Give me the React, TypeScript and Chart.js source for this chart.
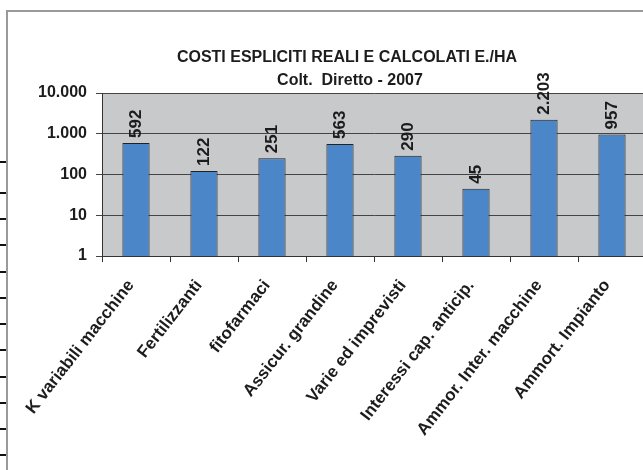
import React, { useEffect, useRef } from 'react';
import { Chart, registerables } from 'chart.js';

Chart.register(...registerables);

const TITLE_LINES = ['COSTI ESPLICITI REALI E CALCOLATI E./HA', 'Colt.  Diretto - 2007'];
const CATEGORIES = [
  'K variabili macchine',
  'Fertilizzanti',
  'fitofarmaci',
  'Assicur. grandine',
  'Varie ed imprevisti',
  'Interessi cap. anticip.',
  'Ammor. Inter. macchine',
  'Ammort. Impianto',
];
const VALUES = [592, 122, 251, 563, 290, 45, 2203, 957];
const Y_TICKS = [1, 10, 100, 1000, 10000];

const FONT_FAMILY = '"Liberation Sans", Arial, Helvetica, sans-serif';
const TEXT_COLOR = '#1c1c1c';
const BAR_COLOR = '#4a86c8';
const PLOT_BG = '#c8c9cb';
const ROW_MARKS = [162, 193, 219, 245, 272, 298, 324, 350, 377, 403, 429, 455];

const fmt = (n: number) => String(Math.round(n)).replace(/\B(?=(\d{3})+(?!\d))/g, '.');

const plotBg = {
  id: 'plotBg',
  beforeDraw(chart: any) {
    const { ctx, chartArea: a } = chart;
    ctx.save();
    ctx.fillStyle = PLOT_BG;
    ctx.fillRect(a.left, a.top, a.right - a.left, a.bottom - a.top);
    ctx.restore();
  },
};

const titlePlugin = {
  id: 'twoLineTitle',
  afterDraw(chart: any) {
    const { ctx } = chart;
    ctx.save();
    ctx.fillStyle = TEXT_COLOR;
    ctx.font = `bold 16px ${FONT_FAMILY}`;
    ctx.textAlign = 'center';
    ctx.textBaseline = 'alphabetic';
    ctx.fillText(TITLE_LINES[0], 347, 62);
    ctx.fillText(TITLE_LINES[1], 350, 85);
    ctx.restore();
  },
};

const valueLabels = {
  id: 'valueLabels',
  afterDatasetsDraw(chart: any) {
    const { ctx } = chart;
    const meta = chart.getDatasetMeta(0);
    ctx.save();
    ctx.fillStyle = TEXT_COLOR;
    ctx.font = `bold 17px ${FONT_FAMILY}`;
    ctx.textAlign = 'left';
    ctx.textBaseline = 'middle';
    meta.data.forEach((bar: any, i: number) => {
      ctx.save();
      ctx.translate(bar.x, bar.y - 5);
      ctx.rotate(-Math.PI / 2);
      ctx.fillText(fmt(VALUES[i]), 0, 0);
      ctx.restore();
    });
    ctx.restore();
  },
};

export default function App() {
  const ref = useRef<HTMLCanvasElement | null>(null);

  useEffect(() => {
    if (!ref.current) return;
    const yFont = { family: FONT_FAMILY, size: 16, weight: 'bold' as const };
    const xFont = { family: FONT_FAMILY, size: 17, weight: 'bold' as const };
    const chart = new Chart(ref.current, {
      type: 'bar',
      data: {
        labels: CATEGORIES,
        datasets: [
          {
            data: VALUES,
            backgroundColor: BAR_COLOR,
            borderColor: '#222222',
            borderWidth: 1,
            barPercentage: 0.4,
            categoryPercentage: 1,
          },
        ],
      },
      options: {
        responsive: false,
        devicePixelRatio: 1,
        animation: false,
        layout: { padding: { top: 93, left: 0, right: 0, bottom: 0 } },
        plugins: {
          legend: { display: false },
          tooltip: { enabled: false },
          title: { display: false },
        },
        scales: {
          x: {
            type: 'category',
            offset: true,
            grid: {
              display: true,
              offset: true,
              drawOnChartArea: false,
              drawTicks: true,
              tickLength: 6,
              color: '#333333',
            },
            border: { display: true, color: '#333333', width: 1 },
            ticks: {
              autoSkip: false,
              maxRotation: 52,
              minRotation: 52,
              padding: 14,
              labelOffset: -5,
              color: TEXT_COLOR,
              font: xFont,
            },
            afterFit(scale: any) {
              scale.height = 214;
            },
          },
          y: {
            type: 'logarithmic',
            min: 1,
            max: 10000,
            afterBuildTicks(scale: any) {
              scale.ticks = Y_TICKS.map((v) => ({ value: v }));
            },
            grid: { color: '#444444', tickLength: 6, lineWidth: 1 },
            border: { display: true, color: '#333333', width: 1 },
            ticks: {
              padding: 9,
              color: TEXT_COLOR,
              font: yFont,
              callback: (v: any) => fmt(Number(v)),
            },
            afterFit(scale: any) {
              scale.width = 102;
            },
          },
        },
      },
      plugins: [plotBg, valueLabels, titlePlugin],
    });
    return () => chart.destroy();
  }, []);

  return (
    <div
      style={{
        position: 'fixed',
        left: 0,
        top: 0,
        width: 643,
        height: 470,
        overflow: 'hidden',
        background: '#ffffff',
      }}
    >
      {ROW_MARKS.map((y) => (
        <div
          key={y}
          style={{ position: 'absolute', left: 0, top: y - 1, width: 7, height: 2, background: '#111' }}
        />
      ))}
      <div
        style={{
          position: 'absolute',
          left: 6,
          top: 10,
          width: 700,
          height: 500,
          borderLeft: '2px solid #9a9a9a',
          borderTop: '2px solid #9a9a9a',
        }}
      />
      <canvas
        ref={ref}
        width={646}
        height={470}
        style={{ position: 'absolute', left: 0, top: 0, width: 646, height: 470 }}
      />
    </div>
  );
}
